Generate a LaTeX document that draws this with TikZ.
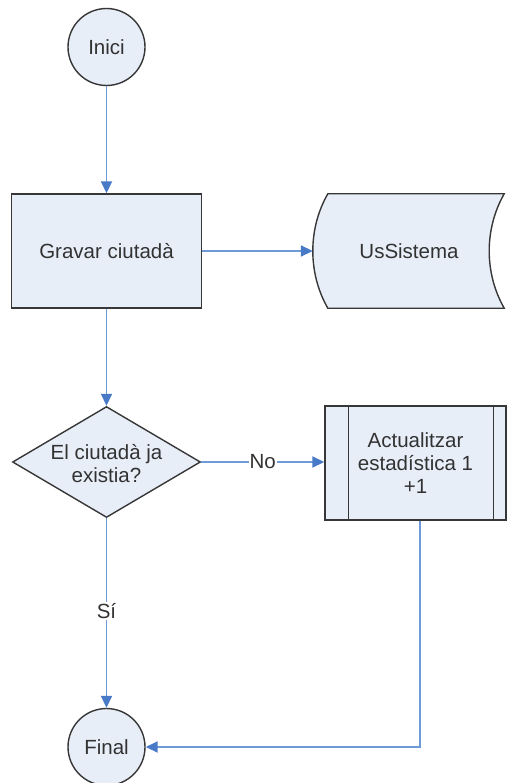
\documentclass[tikz,border=0pt]{standalone}
\usepackage{fontspec}
\setmainfont{Liberation Sans}
\usetikzlibrary{arrows.meta,shapes.geometric}
\definecolor{shapefill}{RGB}{232,238,248}
\definecolor{shapeline}{RGB}{55,55,55}
\definecolor{arrowblue}{RGB}{110,155,215}
\definecolor{tipblue}{RGB}{72,122,200}
\definecolor{txt}{RGB}{50,50,50}
\tikzset{
  base/.style={draw=shapeline, fill=shapefill, line width=1.4pt, text=txt, font=\fontsize{20.5}{23}\selectfont, align=center, inner sep=0pt},
  termnode/.style={base, circle, minimum size=77pt},
  procbox/.style={base, rectangle, minimum width=190pt, minimum height=114pt},
  decbox/.style={base, diamond, minimum width=188pt, minimum height=111pt},
  subproc/.style={base, rectangle, minimum width=181pt, minimum height=114pt},
  plaintext/.style={text=txt, font=\fontsize{20.5}{23}\selectfont, align=center, inner sep=0pt},
  conn/.style={draw=arrowblue, line width=1.8pt, -{Triangle[length=12pt,width=11pt,color=tipblue]}},
  lbl/.style={fill=white, text=txt, font=\fontsize{20.5}{23}\selectfont, inner sep=1pt}
}
\begin{document}
\begin{tikzpicture}[x=1pt,y=-1pt]
\useasboundingbox (0,0) rectangle (507,783);
\node[termnode] (inici) at (106.5,47) {Inici};
\node[procbox] (grav) at (106.5,251) {Gravar ciutadà};
\node[rectangle, minimum width=192pt, minimum height=114pt, inner sep=0pt] (us) at (409,251) {};
\draw[base] ([xshift=15pt]us.north west) -- ([xshift=-1pt]us.north east)
  .. controls ([xshift=-21pt,yshift=-35pt]us.north east) and ([xshift=-21pt,yshift=35pt]us.south east) .. ([xshift=-1pt]us.south east)
  -- ([xshift=15pt]us.south west)
  .. controls ([xshift=-5pt,yshift=35pt]us.south west) and ([xshift=-5pt,yshift=-35pt]us.north west) .. ([xshift=15pt]us.north west) -- cycle;
\node[plaintext] (ustext) at (us.center) {UsSistema};
\node[decbox] (dec) at (106.5,462) {};
\node[plaintext] (dectext) at (106.5,464) {El ciutadà ja\\existia?};
\node[subproc] (act) at (415.5,463) {Actualitzar\\estadística 1\\+1};
\draw[shapeline, line width=1.4pt] ([xshift=24pt]act.north west) -- ([xshift=24pt]act.south west);
\draw[shapeline, line width=1.4pt] ([xshift=-13pt]act.north east) -- ([xshift=-13pt]act.south east);
\node[termnode] (final) at (106.5,747) {Final};
\coordinate (corner) at (420,747);
\draw[conn] (inici) -- (grav.north);
\draw[conn] (grav.east) -- (us.west);
\draw[conn] (grav.south) -- (dec.north);
\draw[conn] (dec.east) -- node[lbl]{No} (act.west |- dec.east);
\draw[conn] (dec.south) -- node[lbl, pos=0.49]{Sí} (final.north);
\draw[conn] (act.south -| corner) -- (corner) -- (final.east);
\end{tikzpicture}
\end{document}
